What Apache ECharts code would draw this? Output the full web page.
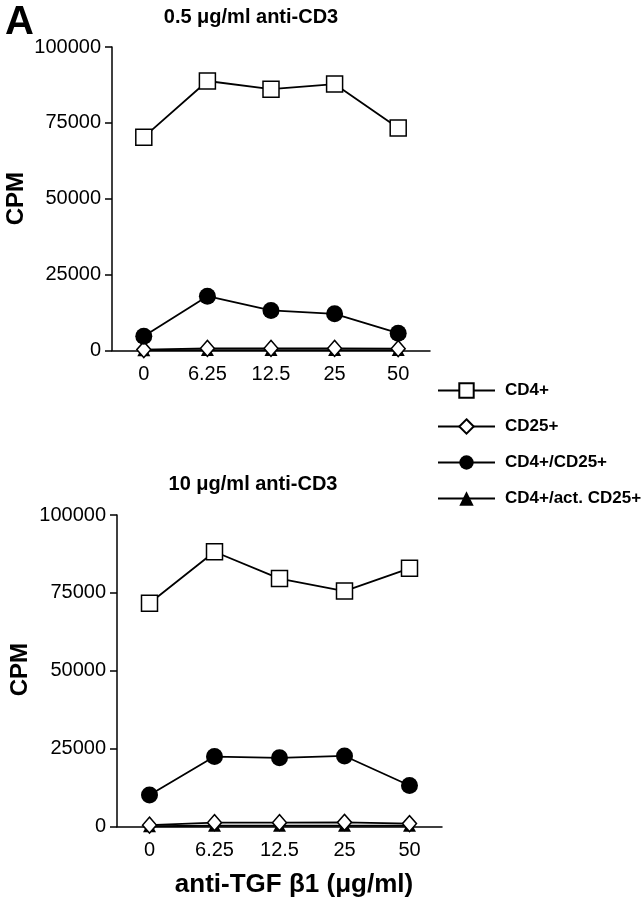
<!DOCTYPE html>
<html>
<head>
<meta charset="utf-8">
<script src="https://cdn.jsdelivr.net/npm/echarts@6/dist/echarts.min.js"></script>
<style>
html,body{margin:0;padding:0;background:#fff;}
#c{width:642px;height:900px;}
</style>
</head>
<body>
<div id="c"></div>
<script>
const categories = ['0', '6.25', '12.5', '25', '50'];
const yTicks = [0, 25000, 50000, 75000, 100000];
const seriesNames = ['CD4+', 'CD25+', 'CD4+/CD25+', 'CD4+/act. CD25+'];

// Panel 1: 0.5 µg/ml anti-CD3
const top_CD4 = [70300, 88800, 86100, 87800, 73300];
const top_CD25 = [300, 700, 700, 700, 600];
const top_CD4CD25 = [4700, 17900, 13200, 12100, 5700];
const top_CD4actCD25 = [100, 150, 150, 150, 150];

// Panel 2: 10 µg/ml anti-CD3
const bot_CD4 = [71700, 88200, 79600, 75600, 82900];
const bot_CD25 = [500, 1300, 1300, 1400, 1000];
const bot_CD4CD25 = [10200, 22500, 22100, 22700, 13200];
const bot_CD4actCD25 = [150, 300, 300, 300, 300];

const titles = ['0.5 \u03bcg/ml anti-CD3', '10 \u03bcg/ml anti-CD3'];
const xTitle = 'anti-TGF \u03b21 (\u03bcg/ml)';
const yTitle = 'CPM';
const panelLetter = 'A';

const FONT = 'Liberation Sans, Arial, sans-serif';

const styles = {
  'CD4+': {symbol: 'rect', symbolSize: 16, itemStyle: {color: '#fff', borderColor: '#000', borderWidth: 1.5}},
  'CD25+': {symbol: 'diamond', symbolSize: [14, 16], itemStyle: {color: '#fff', borderColor: '#000', borderWidth: 1.5}},
  'CD4+/CD25+': {symbol: 'circle', symbolSize: 17, itemStyle: {color: '#000', borderColor: '#000', borderWidth: 0}},
  'CD4+/act. CD25+': {symbol: 'triangle', symbolSize: [13, 12], itemStyle: {color: '#000', borderColor: '#000', borderWidth: 0}}
};

function mkSeries(name, data, idx, z) {
  const s = styles[name];
  return {
    name: name, type: 'line', xAxisIndex: idx, yAxisIndex: idx, data: data,
    symbol: s.symbol, symbolSize: s.symbolSize, itemStyle: s.itemStyle,
    lineStyle: {color: '#000', width: 1.8}, showAllSymbol: true, z: z,
    emphasis: {disabled: true}, animation: false
  };
}

function mkX(idx) {
  return {
    type: 'category', gridIndex: idx, data: categories, boundaryGap: true,
    axisLine: {lineStyle: {color: '#000', width: 1.5}},
    axisTick: {show: false},
    axisLabel: {color: '#000', fontSize: 20, fontFamily: FONT, margin: 14},
    splitLine: {show: false}
  };
}
function mkY(idx) {
  return {
    type: 'value', gridIndex: idx, min: yTicks[0], max: yTicks[yTicks.length - 1],
    interval: yTicks[1] - yTicks[0],
    axisLine: {show: true, lineStyle: {color: '#000', width: 1.5}},
    axisTick: {show: true, length: 7, lineStyle: {color: '#000', width: 1.5}},
    axisLabel: {color: '#000', fontSize: 20, fontFamily: FONT, margin: 11, formatter: function (v) { return String(v); }},
    splitLine: {show: false}
  };
}

const chart = echarts.init(document.getElementById('c'), null, {renderer: 'canvas'});
chart.setOption({
  backgroundColor: '#fff',
  animation: false,
  title: [
    {text: panelLetter, left: 0, top: -2, textStyle: {fontSize: 40, fontWeight: 'bold', fontFamily: FONT, color: '#000'}},
    {text: titles[0], left: 246, top: 2, textAlign: 'center', textStyle: {fontSize: 20, fontWeight: 'bold', fontFamily: FONT, color: '#000'}},
    {text: titles[1], left: 248, top: 469, textAlign: 'center', textStyle: {fontSize: 20, fontWeight: 'bold', fontFamily: FONT, color: '#000'}},
    {text: xTitle, left: 289, top: 867, textAlign: 'center', textStyle: {fontSize: 26, fontWeight: 'bold', fontFamily: FONT, color: '#000'}}
  ],
  graphic: [
    {type: 'text', left: 4, top: 172, rotation: Math.PI / 2, style: {text: yTitle, font: 'bold 24px ' + FONT, fill: '#000'}},
    {type: 'text', left: 8, top: 643, rotation: Math.PI / 2, style: {text: yTitle, font: 'bold 24px ' + FONT, fill: '#000'}}
  ],
  legend: {
    data: seriesNames, orient: 'vertical', left: 432, top: 377,
    itemWidth: 57, itemHeight: 18, itemGap: 19,
    textStyle: {fontSize: 17, fontWeight: 'bold', fontFamily: FONT, color: '#000', padding: [0, 0, 0, 5]},
    selectedMode: false, inactiveColor: '#000'
  },
  grid: [
    {left: 112, width: 318, top: 47, height: 303.5},
    {left: 117, width: 325, top: 515, height: 311.7}
  ],
  xAxis: [mkX(0), mkX(1)],
  yAxis: [mkY(0), mkY(1)],
  series: [
    mkSeries('CD4+/act. CD25+', top_CD4actCD25, 0, 2),
    mkSeries('CD25+', top_CD25, 0, 3),
    mkSeries('CD4+/CD25+', top_CD4CD25, 0, 4),
    mkSeries('CD4+', top_CD4, 0, 5),
    mkSeries('CD4+/act. CD25+', bot_CD4actCD25, 1, 2),
    mkSeries('CD25+', bot_CD25, 1, 3),
    mkSeries('CD4+/CD25+', bot_CD4CD25, 1, 4),
    mkSeries('CD4+', bot_CD4, 1, 5)
  ]
});
</script>
</body>
</html>
